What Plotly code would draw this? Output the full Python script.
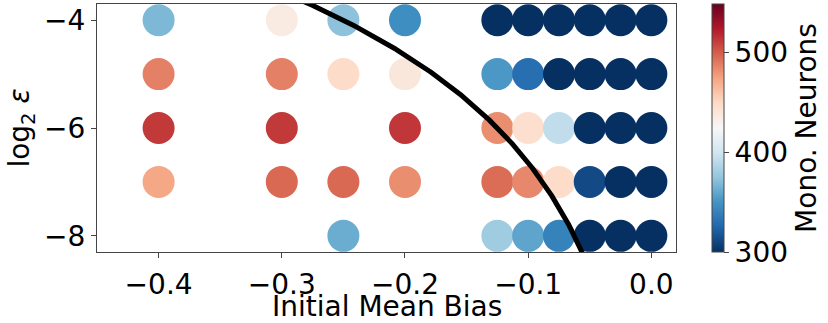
import numpy as np
import plotly.graph_objects as go

# Sweep results: initial mean bias, log2 epsilon, number of monosemantic neurons
bias = [
    -0.4, -0.4, -0.4, -0.4,
    -0.3, -0.3, -0.3, -0.3,
    -0.25, -0.25, -0.25, -0.25,
    -0.2, -0.2, -0.2, -0.2,
    -0.125, -0.125, -0.125, -0.125, -0.125,
    -0.1, -0.1, -0.1, -0.1, -0.1,
    -0.075, -0.075, -0.075, -0.075, -0.075,
    -0.05, -0.05, -0.05, -0.05, -0.05,
    -0.025, -0.025, -0.025, -0.025, -0.025,
    0.0, 0.0, 0.0, 0.0, 0.0,
]
log_eps = [
    -4, -5, -6, -7,
    -4, -5, -6, -7,
    -4, -5, -7, -8,
    -4, -5, -6, -7,
    -4, -5, -6, -7, -8,
    -4, -5, -6, -7, -8,
    -4, -5, -6, -7, -8,
    -4, -5, -6, -7, -8,
    -4, -5, -6, -7, -8,
    -4, -5, -6, -7, -8,
]
mono_neurons = [
    368, 487, 512, 472,
    435, 487, 512, 495,
    373, 448, 495, 362,
    347, 438, 513, 482,
    300, 352, 482, 494, 380,
    300, 330, 445, 484, 358,
    300, 300, 393, 448, 340,
    300, 300, 300, 312, 300,
    300, 300, 300, 300, 300,
    300, 300, 300, 300, 300,
]

x_ticks = [-0.4, -0.3, -0.2, -0.1, 0.0]
y_ticks = [-8, -6, -4]
cbar_ticks = [300, 400, 500]
c_min, c_max = 300, 548

# Diverging red-blue scale (ColorBrewer RdBu, reversed)
rdbu = ["#053061", "#2166ac", "#4393c3", "#92c5de", "#d1e5f0", "#f7f7f7",
        "#fddbc7", "#f4a582", "#d6604d", "#b2182b", "#67001f"]
colorscale = [[i / (len(rdbu) - 1), c] for i, c in enumerate(rdbu)]

# Boundary curve: bias = -sqrt(epsilon)
curve_log_eps = np.linspace(-9.0, -3.0, 300)
curve_bias = -np.sqrt(2.0 ** curve_log_eps)

FONT = "DejaVu Sans"
AXIS_COLOR = "#444444"
TXT = dict(family=FONT, size=28, color="black")

fig = go.Figure()
fig.add_trace(go.Scatter(
    x=bias, y=log_eps, mode="markers",
    marker=dict(
        size=32, color=mono_neurons, colorscale=colorscale,
        cmin=c_min, cmax=c_max, line=dict(width=0),
        colorbar=dict(
            title=dict(text="Mono. Neurons", side="right", font=TXT),
            tickvals=cbar_ticks, ticks="outside", ticklen=5, tickwidth=1,
            tickcolor=AXIS_COLOR, tickfont=TXT,
            thickness=12, thicknessmode="pixels",
            len=1, lenmode="fraction", y=0.5, yanchor="middle",
            x=1.063, xanchor="left", xpad=0, ypad=0,
            outlinewidth=1, outlinecolor=AXIS_COLOR,
        ),
    ),
    showlegend=False, hoverinfo="x+y+text", text=mono_neurons,
))
fig.add_trace(go.Scatter(
    x=curve_bias, y=curve_log_eps, mode="lines",
    line=dict(color="black", width=5), showlegend=False,
))

# x-axis title as an annotation below the tick labels
fig.add_annotation(
    text="Initial Mean Bias", xref="paper", yref="paper",
    x=0.5, y=0, xanchor="center", yanchor="top", yshift=-36,
    showarrow=False, font=TXT,
)

fig.update_layout(
    width=828, height=323,
    margin=dict(l=97, r=143, t=4, b=71),
    paper_bgcolor="white", plot_bgcolor="white",
    font=TXT,
    xaxis=dict(
        range=[-0.45, 0.02], tickvals=x_ticks, tickformat=".1f",
        ticks="outside", ticklen=5, tickwidth=1, tickcolor=AXIS_COLOR,
        tickfont=TXT, ticklabelstandoff=2,
        showline=True, linecolor=AXIS_COLOR, linewidth=1, mirror=True,
        showgrid=False, zeroline=False, automargin=False,
    ),
    yaxis=dict(
        range=[-8.3, -3.7], tickvals=y_ticks,
        ticks="outside", ticklen=5, tickwidth=1, tickcolor=AXIS_COLOR,
        tickfont=TXT,
        showline=True, linecolor=AXIS_COLOR, linewidth=1, mirror=True,
        showgrid=False, zeroline=False, automargin=False,
        title=dict(text="log<sub>2</sub> <i>ε</i>", font=TXT, standoff=6),
    ),
)

fig.write_html("out.html")
